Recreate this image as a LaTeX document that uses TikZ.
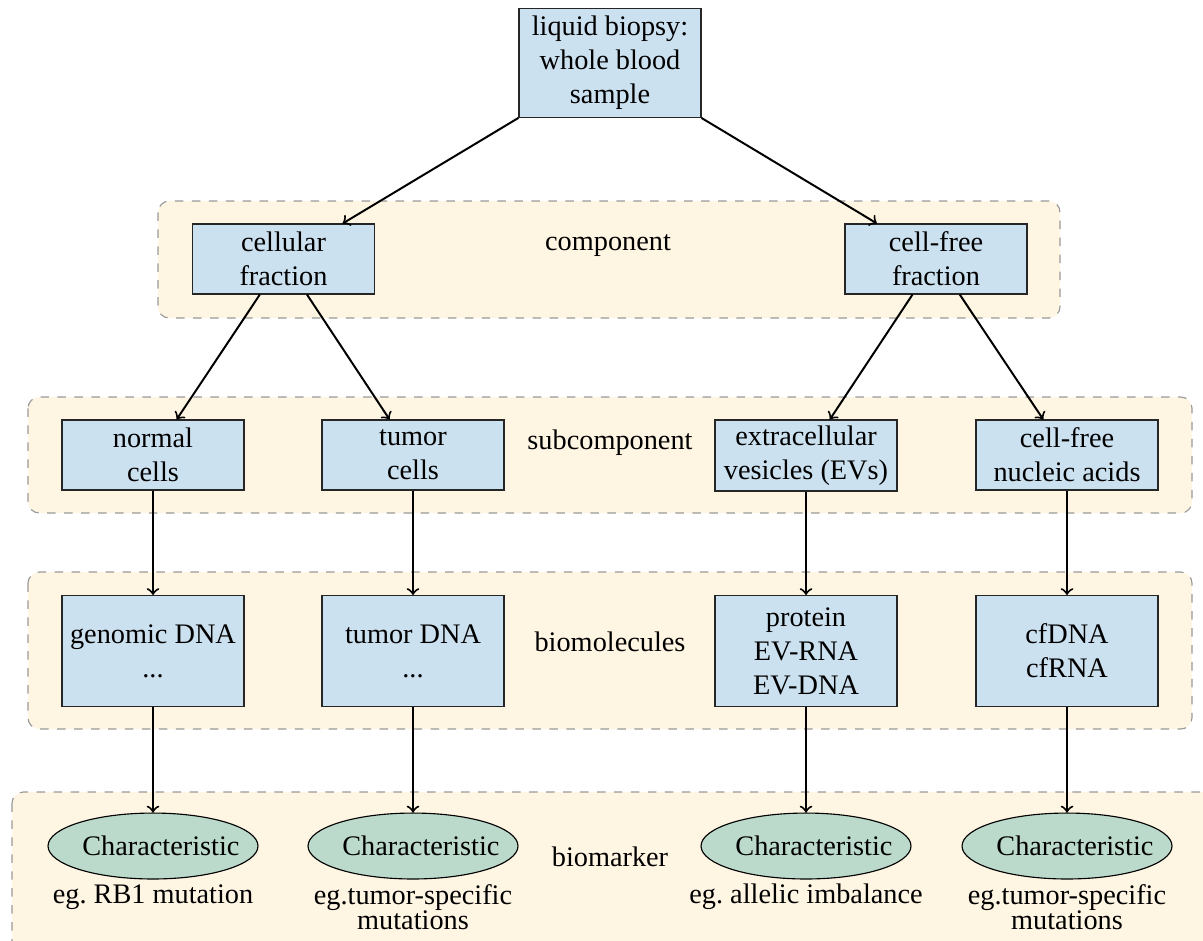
\documentclass[tikz,border=0pt]{standalone}
\usepackage{fontspec}
\setmainfont{Liberation Serif}
\usepackage{tikz}
\usetikzlibrary{arrows,shapes}
\usetikzlibrary{positioning}
\definecolor{bandfill}{RGB}{255,245,227}
\definecolor{boxfill}{RGB}{204,225,240}
\definecolor{ovalfill}{RGB}{188,218,203}
\frenchspacing
\tikzset{
    layer/.style={draw=black!40, dashed, fill=bandfill, rounded corners=4pt},
    sample/.style={draw=black!85, fill=boxfill, align=center,
        minimum width=64.3pt, minimum height=24.7pt, inner sep=2pt},
    biobox/.style={sample, minimum height=39.2pt},
    marker/.style={ellipse, draw=black, fill=ovalfill,
        minimum width=74.2pt, minimum height=23.3pt, inner xsep=-6pt},
    note/.style={align=center, inner sep=1.5pt,
        font={\fontsize{10}{9}\selectfont\lineskiplimit=-10pt}},
    link/.style={draw=black, line width=0.7pt, ->},
}

\begin{document}
\begin{tikzpicture}[x=0.3534pt, y=-0.3534pt]
	\useasboundingbox (0,0) rectangle (1203,940);
	% layers
	\draw[layer] (158,201) rectangle (1060,318);
	\draw[layer] (28,397) rectangle (1192,513);
	\draw[layer] (28,572) rectangle (1192,729);
	\draw[layer] (12,792) rectangle (1215,960);
	\node (lcomp) at (608,246) {component};
	\node (lsub) at (610,443) {subcomponent};
	\node (lbio) at (610,642) {biomolecules};
	\node (lmark) at (610,857) {biomarker};
	%
	\node[sample, minimum height=38.5pt] (blood) at (610,63) {liquid biopsy:\\whole blood\\sample};
	\node[sample] (cellular) at (283.5,259) {cellular\\fraction};
	\node[sample] (cellfree) at (936,259) {cell-free\\fraction};
	%
	\node[sample] (normal) at (153,455) {normal\\cells};
	\node[sample] (tumor) at (413,455) {tumor\\cells};
	\node[sample] (vesicles) at (806,455.5) {extracellular\\vesicles (EVs)};
	\node[sample] (nucleic) at (1067,455) {cell-free\\nucleic acids};
	%
	\node[biobox] (genomic) at (153,651) {genomic DNA\\...};
	\node[biobox] (tumordna) at (413,651) {tumor DNA\\...};
	\node[biobox] (evmol) at (806,651) {protein\\EV-RNA\\EV-DNA};
	\node[biobox] (cfmol) at (1067,651) {cfDNA\\cfRNA};
	%
	\node[marker] (m1) at (153,846) {\hspace*{5.6pt}Characteristic};
	\node[marker] (m2) at (413,846) {\hspace*{5.6pt}Characteristic};
	\node[marker] (m3) at (806,846) {\hspace*{5.6pt}Characteristic};
	\node[marker] (m4) at (1067,846) {\hspace*{5.6pt}Characteristic};
	\node[note, below=0pt of m1] (e1) {eg. RB1 mutation};
	\node[note, below=0pt of m2] (e2) {eg.tumor-specific\\mutations};
	\node[note, below=0pt of m3] (e3) {eg. allelic imbalance};
	\node[note, below=0pt of m4] (e4) {eg.tumor-specific\\mutations};
	%
	\draw[link] (blood) -- (cellular);
	\draw[link] (blood) -- (cellfree);
	\draw[link] (cellular) -- (normal);
	\draw[link] (cellular) -- (tumor);
	\draw[link] (cellfree) -- (vesicles);
	\draw[link] (cellfree) -- (nucleic);
	\draw[link] (normal) -- (genomic);
	\draw[link] (tumor) -- (tumordna);
	\draw[link] (vesicles) -- (evmol);
	\draw[link] (nucleic) -- (cfmol);
	\draw[link] (genomic) -- (m1);
	\draw[link] (tumordna) -- (m2);
	\draw[link] (evmol) -- (m3);
	\draw[link] (cfmol) -- (m4);
\end{tikzpicture}
\end{document}
